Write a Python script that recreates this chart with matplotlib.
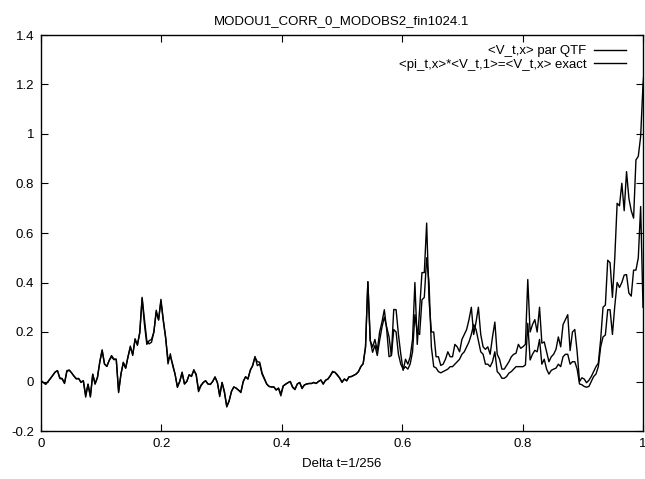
import numpy as np
import matplotlib
matplotlib.use("Agg")
import matplotlib.pyplot as plt
from matplotlib.ticker import FormatStrFormatter, MultipleLocator

plt.rcParams['font.family'] = ['Liberation Sans', 'DejaVu Sans']

title = "MODOU1_CORR_0_MODOBS2_fin1024.1"
xlabel = "Delta t=1/256"
label_qtf = "<V_t,x> par QTF"
label_exact = "<pi_t,x>*<V_t,1>=<V_t,x> exact"
n_steps = 256

qtf = [
    0.003, -0.004, -0.011, 0.000, 0.012, 0.025, 0.038, 0.044, 0.012, 0.010,
    -0.008, 0.044, 0.046, 0.035, 0.022, 0.010, 0.012, -0.004, 0.003, -0.063,
    -0.011, -0.063, 0.030, -0.011, 0.016, 0.080, 0.128, 0.071, 0.061, 0.085,
    0.105, 0.091, 0.090, -0.045, 0.030, 0.078, 0.054, 0.100, 0.143, 0.105,
    0.173, 0.146, 0.200, 0.340, 0.250, 0.165, 0.152, 0.159, 0.200, 0.288,
    0.248, 0.332, 0.250, 0.180, 0.071, 0.112, 0.064, 0.030, -0.024, 0.000,
    0.038, -0.011, 0.000, 0.027, 0.020, 0.048, 0.024, -0.041,
    -0.018, -0.004, 0.003, -0.010, -0.012, 0.000, 0.019, -0.004, -0.061, -0.004,
    -0.045, -0.103, -0.079, -0.040, -0.022, -0.027, -0.035, -0.045, 0.000, 0.019,
    0.010, 0.046, 0.064, 0.101, 0.064, 0.071, 0.030, 0.010, -0.011, -0.020,
    -0.022, -0.022, -0.035, -0.027, -0.058, -0.018, -0.011, -0.005, 0.000, -0.024,
    -0.033, -0.010, -0.004, -0.029, -0.014, -0.010, -0.008, -0.008, -0.004, -0.008,
    0.000, 0.006, -0.011, 0.005, 0.010, 0.023, 0.041, 0.037, 0.025, 0.014,
    -0.004, 0.010, 0.003, 0.019,
    0.020, 0.025, 0.030, 0.040, 0.060, 0.072, 0.139, 0.403, 0.166, 0.139,
    0.170, 0.125, 0.200, 0.240, 0.290, 0.210, 0.100, 0.105, 0.291, 0.290,
    0.190, 0.110, 0.045, 0.090, 0.070, 0.100, 0.170, 0.400, 0.150, 0.290,
    0.440, 0.440, 0.640, 0.330, 0.200, 0.200, 0.100, 0.100, 0.065, 0.070,
    0.090, 0.120, 0.100, 0.100, 0.150, 0.140, 0.120, 0.170, 0.190, 0.210,
    0.250, 0.300, 0.190, 0.240, 0.300, 0.190, 0.140, 0.130, 0.140, 0.110,
    0.180, 0.240, 0.110,
    0.090, 0.050, 0.050, 0.065, 0.080, 0.100, 0.110, 0.114, 0.150, 0.134,
    0.141, 0.150, 0.412, 0.200, 0.230, 0.250, 0.200, 0.300, 0.155, 0.160,
    0.120, 0.080, 0.100, 0.110, 0.130, 0.180, 0.140, 0.230, 0.250, 0.270,
    0.125, 0.200, 0.210, 0.120, 0.000, 0.015, 0.010, -0.005, 0.005, 0.020,
    0.040, 0.060, 0.074, 0.170, 0.300, 0.309, 0.490, 0.480, 0.340, 0.500,
    0.720, 0.710, 0.801, 0.690, 0.848, 0.740, 0.690, 0.660, 0.895, 0.910,
    0.990, 1.200, 1.318,
]

exact = [
    0.003, -0.004, -0.011, 0.000, 0.012, 0.025, 0.038, 0.044, 0.015, 0.012,
    -0.006, 0.040, 0.046, 0.035, 0.022, 0.012, 0.012, -0.002, 0.003, -0.055,
    -0.011, -0.058, 0.028, -0.008, 0.016, 0.078, 0.125, 0.071, 0.061, 0.085,
    0.100, 0.088, 0.090, -0.040, 0.030, 0.075, 0.054, 0.100, 0.138, 0.110,
    0.168, 0.150, 0.195, 0.335, 0.230, 0.150, 0.165, 0.170, 0.200, 0.280,
    0.250, 0.325, 0.245, 0.175, 0.090, 0.100, 0.070, 0.030, -0.020, 0.000,
    0.035, -0.008, 0.000, 0.027, 0.022, 0.045, 0.030, -0.035,
    -0.015, -0.004, 0.003, -0.010, -0.012, 0.000, 0.017, -0.004, -0.055, -0.004,
    -0.040, -0.100, -0.078, -0.040, -0.022, -0.027, -0.035, -0.042, 0.000, 0.019,
    0.010, 0.045, 0.064, 0.098, 0.080, 0.078, 0.035, 0.012, -0.010, -0.020,
    -0.022, -0.022, -0.033, -0.027, -0.050, -0.018, -0.011, -0.005, 0.000, -0.022,
    -0.030, -0.010, -0.004, -0.026, -0.014, -0.010, -0.008, -0.008, -0.004, -0.008,
    0.000, 0.006, -0.009, 0.005, 0.010, 0.023, 0.038, 0.037, 0.028, 0.014,
    -0.002, 0.010, 0.003, 0.019,
    0.020, 0.025, 0.030, 0.040, 0.060, 0.072, 0.139, 0.403, 0.166, 0.118,
    0.146, 0.105, 0.166, 0.220, 0.260, 0.220, 0.180, 0.105, 0.210, 0.200,
    0.110, 0.070, 0.050, 0.060, 0.050, 0.071, 0.120, 0.270, 0.200, 0.190,
    0.330, 0.340, 0.500, 0.400, 0.140, 0.060, 0.055, 0.040, 0.035, 0.040,
    0.045, 0.050, 0.060, 0.060, 0.070, 0.080, 0.090, 0.110, 0.120, 0.140,
    0.160, 0.190, 0.230, 0.210, 0.166, 0.120, 0.110, 0.070, 0.070, 0.060,
    0.080, 0.120, 0.040,
    0.030, 0.013, 0.013, 0.020, 0.034, 0.040, 0.050, 0.060, 0.060, 0.060,
    0.060, 0.067, 0.235, 0.087, 0.110, 0.126, 0.120, 0.170, 0.070, 0.090,
    0.050, 0.030, 0.045, 0.050, 0.054, 0.070, 0.060, 0.100, 0.110, 0.110,
    0.070, 0.080, 0.080, 0.050, -0.010, -0.013, -0.020, -0.023, -0.020, 0.000,
    0.020, 0.030, 0.060, 0.140, 0.180, 0.188, 0.290, 0.290, 0.190, 0.305,
    0.400, 0.380, 0.400, 0.430, 0.432, 0.357, 0.345, 0.450, 0.450, 0.500,
    0.707, 0.300,
]

x = np.arange(len(qtf)) / n_steps
x_exact = np.arange(len(exact)) / n_steps

fig = plt.figure(figsize=(6.45, 4.79), dpi=100)
ax = fig.add_axes([41/645, 1-431/479, 602/645, 396/479])

ax.plot(x, qtf, color='black', lw=1.0, label=label_qtf)
ax.plot(x_exact, exact, color='black', lw=1.0, label=label_exact)

ax.set_xlim(0, 1)
ax.set_ylim(-0.2, 1.4)
ax.xaxis.set_major_locator(MultipleLocator(0.2))
ax.yaxis.set_major_locator(MultipleLocator(0.2))
ax.xaxis.set_major_formatter(FormatStrFormatter('%g'))
ax.yaxis.set_major_formatter(FormatStrFormatter('%g'))
ax.tick_params(direction='in', length=5, width=0.8, top=True, right=True,
               labelsize=9.5, pad=5)
for s in ax.spines.values():
    s.set_linewidth(1.0)

ax.set_title(title, fontsize=9.5, pad=8)
ax.set_xlabel(xlabel, fontsize=9.5, labelpad=6)

leg = ax.legend(loc='upper right', bbox_to_anchor=(0.985, 0.995), frameon=False,
                markerfirst=False, fontsize=9.5, handlelength=2.4,
                labelspacing=0.1, handletextpad=0.6, borderaxespad=0.2)

fig.savefig('out.png', dpi=100)
